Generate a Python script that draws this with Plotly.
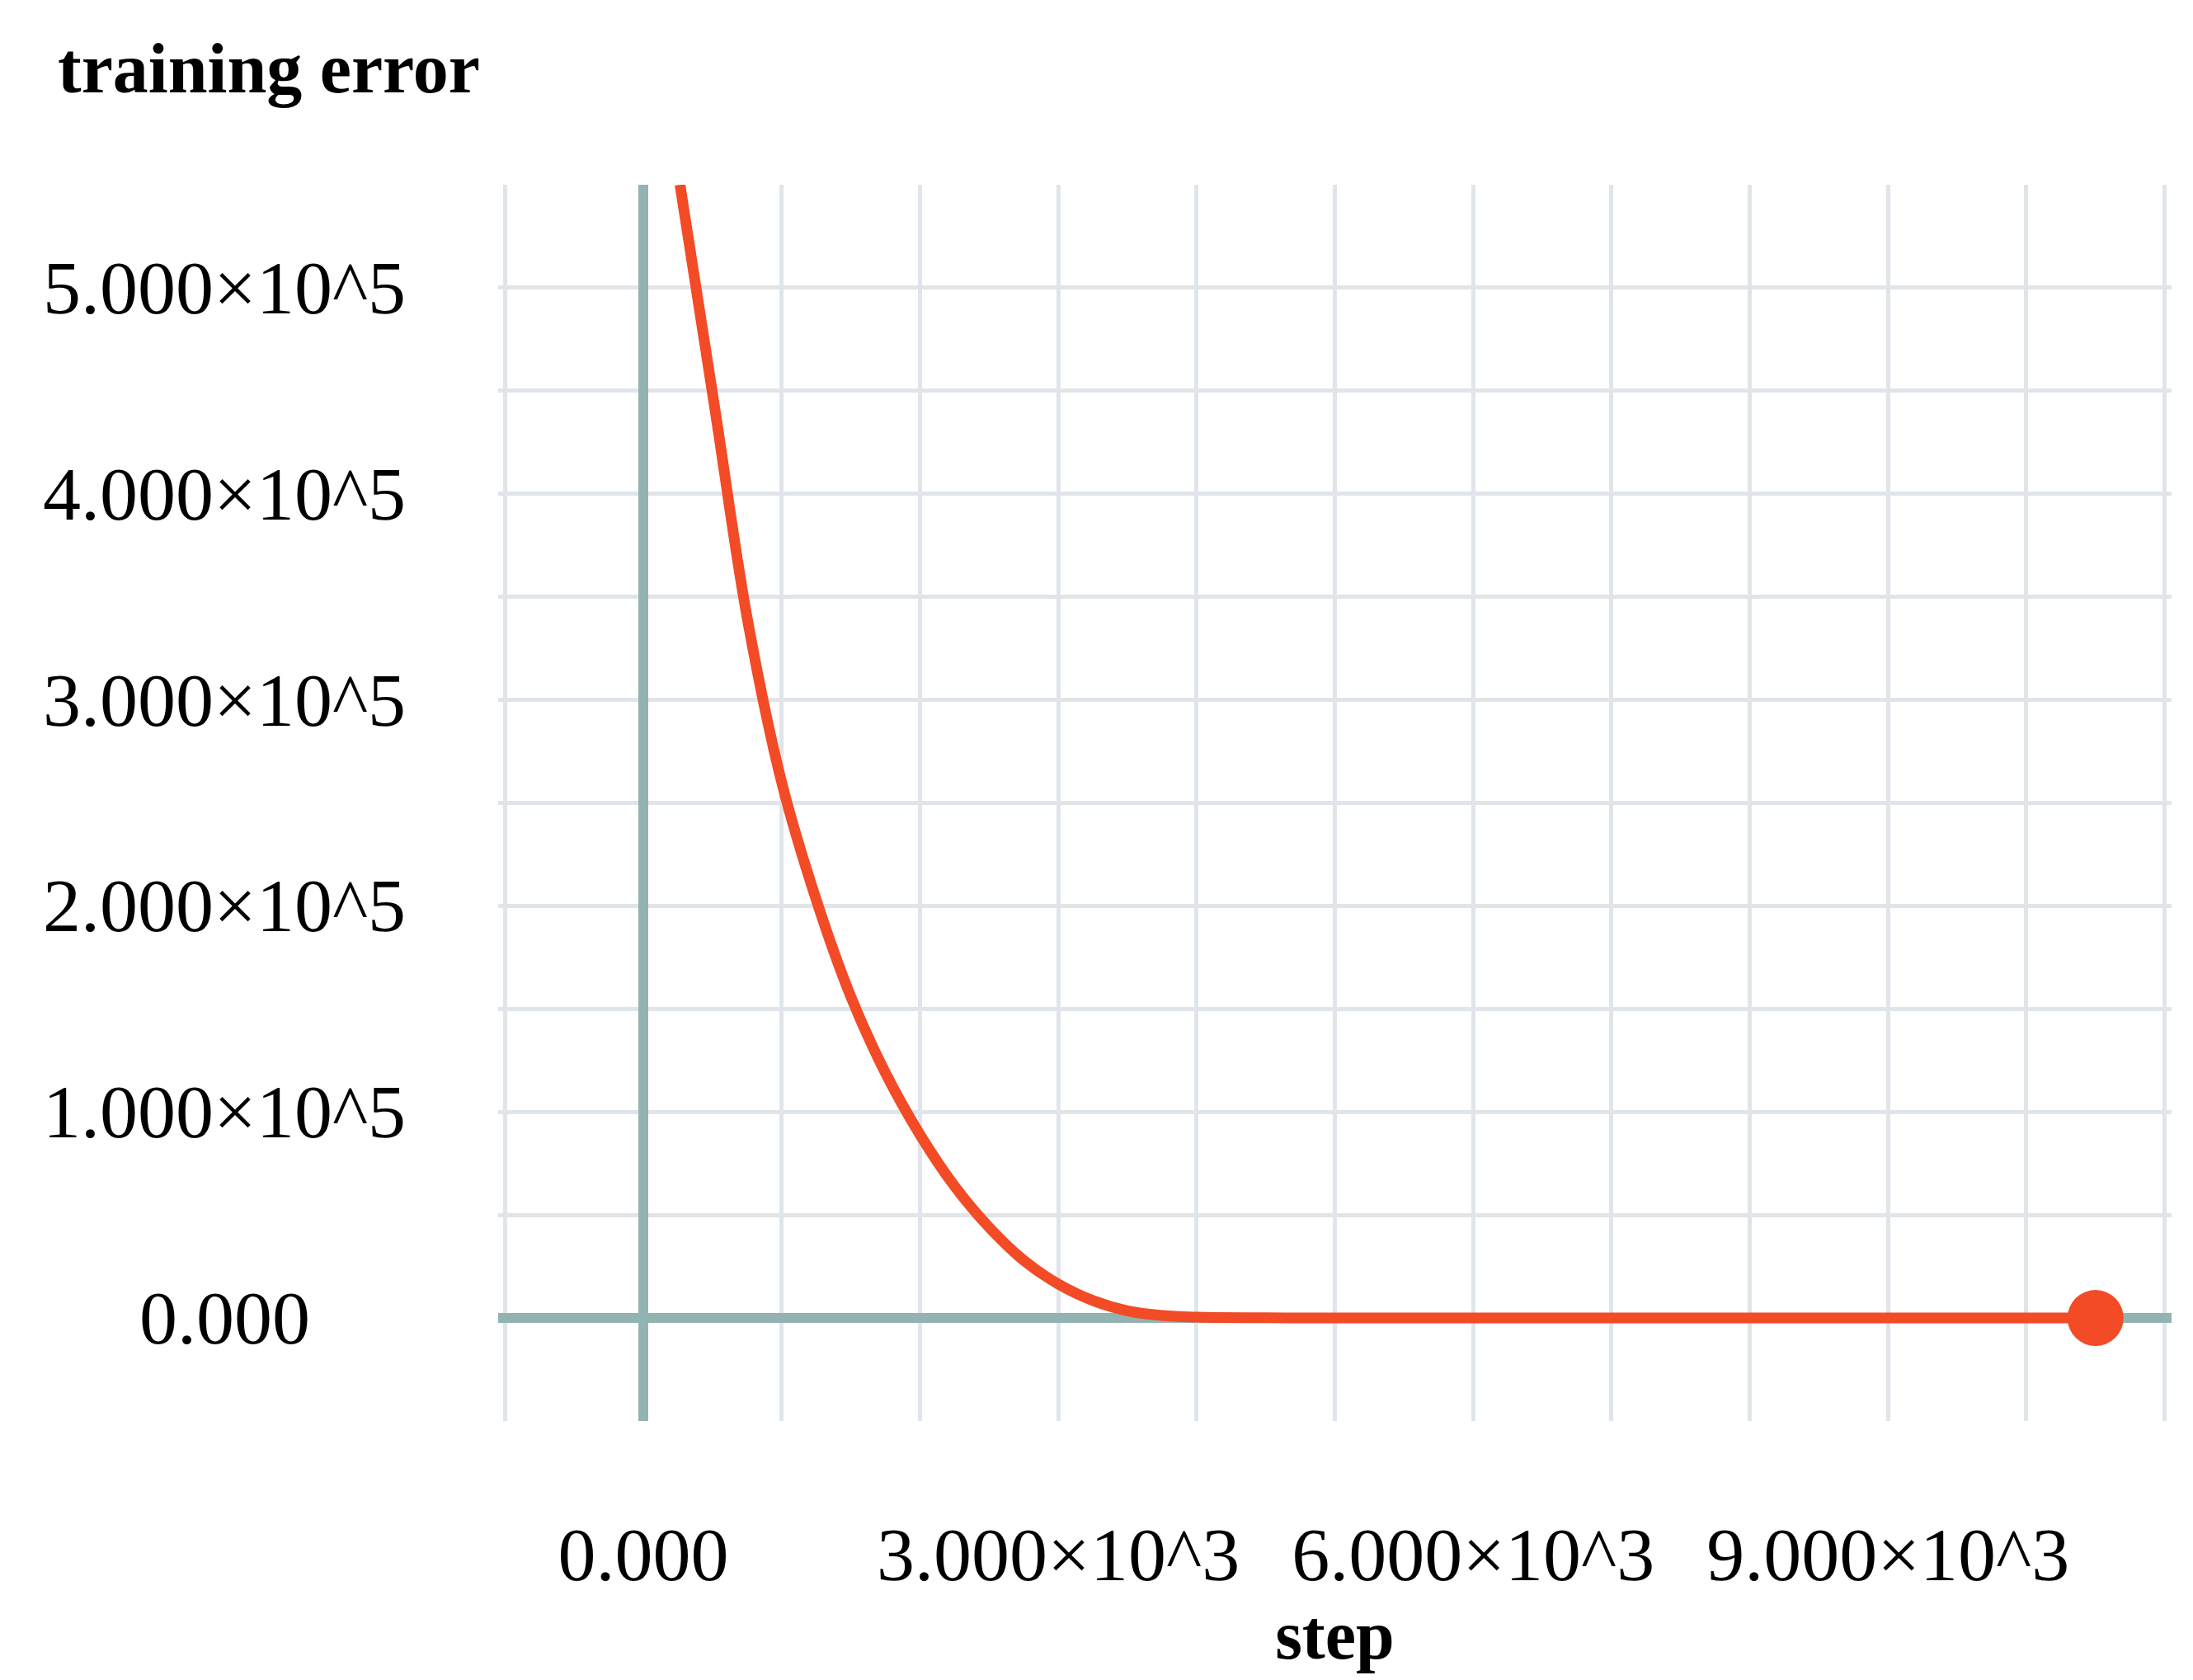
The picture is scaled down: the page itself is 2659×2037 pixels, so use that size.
import plotly.graph_objects as go

steps = [265, 520, 750, 1000, 1250, 1500, 1750, 2000, 2250, 2500, 2750, 3000, 3250, 3500, 3750, 4000, 4500, 5000, 6000, 8000, 10500]
error = [5.5e5, 4.4e5, 3.4e5, 2.6e5, 2.03e5, 1.56e5, 1.19e5, 0.89e5, 0.64e5, 0.44e5, 0.28e5, 0.165e5, 0.085e5, 0.035e5, 0.012e5, 0.004e5, 0.001e5, 0, 0, 0, 0]
end_step = [10500]
end_error = [0]

x_grid = list(range(-1000, 11001, 1000))
x_labels = {0: "0.000", 3000: "3.000×10^3", 6000: "6.000×10^3", 9000: "9.000×10^3"}
y_grid = list(range(-50000, 550001, 50000))
y_labels = {0: "0.000", 100000: "1.000×10^5", 200000: "2.000×10^5", 300000: "3.000×10^5",
            400000: "4.000×10^5", 500000: "5.000×10^5"}

font = "Liberation Serif"
fig = go.Figure()
fig.add_trace(go.Scatter(x=steps, y=error, mode="lines", line=dict(color="#f24b26", width=13, shape="spline", smoothing=1.0), hoverinfo="skip"))
fig.add_trace(go.Scatter(x=end_step, y=end_error, mode="markers", marker=dict(color="#f24b26", size=68), hoverinfo="skip"))

L, R, T, B = 596, 34, 216, 322
PW = 2659 - L - R
PH = 2037 - T - B

for v, t in y_labels.items():
    fig.add_annotation(x=(264 - L) / PW, xref="paper", y=v, yref="y", text=t, showarrow=False,
                       xanchor="center", font=dict(family=font, size=92, color="black"))

fig.update_layout(
    width=2659, height=2037, plot_bgcolor="white", paper_bgcolor="white",
    margin=dict(l=L, r=R, t=T, b=B), showlegend=False,
    xaxis=dict(range=[-1050, 11050], tickvals=x_grid, ticktext=[x_labels.get(v, "") for v in x_grid],
               gridcolor="#dfe5ea", gridwidth=5, zeroline=True, zerolinecolor="#93b3b3", zerolinewidth=12,
               tickfont=dict(family=font, size=92, color="black"), ticklabelstandoff=100,
               title=dict(text="<b>step</b>", font=dict(family=font, size=84, color="black"), standoff=10)),
    yaxis=dict(range=[-50000, 550000], tickvals=y_grid, showticklabels=False,
               gridcolor="#dfe5ea", gridwidth=5, zeroline=True, zerolinecolor="#93b3b3", zerolinewidth=12),
)
fig.add_annotation(x=(60 - L) / PW, xref="paper", xanchor="left", y=1 + (T - 75) / PH, yref="paper",
                   yanchor="middle", text="<b>training error</b>", showarrow=False,
                   font=dict(family=font, size=86, color="black"))
fig.write_html("out.html")
